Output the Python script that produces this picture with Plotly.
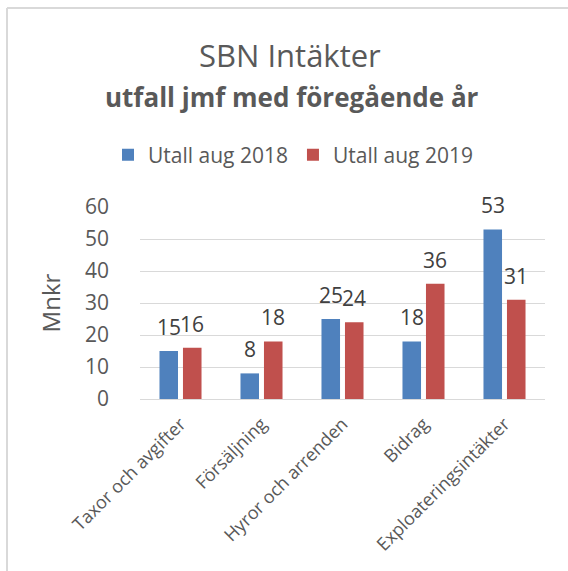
import plotly.graph_objects as go

# Intäkter per kategori, Mnkr
categories = ["Taxor och avgifter", "Försäljning", "Hyror och arrenden", "Bidrag", "Exploateringsintäkter"]
series_names = ["Utall aug 2018", "Utall aug 2019"]
values_2018 = [15, 8, 25, 18, 53]
values_2019 = [16, 18, 24, 36, 31]
y_ticks = [0, 10, 20, 30, 40, 50, 60]

W, H = 568, 571
M_L, M_R, M_T, M_B = 140, 23, 207, 172
plot_w = W - M_L - M_R
plot_h = H - M_T - M_B


def px_x(px):
    return (px - M_L) / plot_w


def px_y(py):
    return (H - M_B - py) / plot_h


FONT = "Open Sans"
TEXT = "#595959"
LABEL = "#404040"
BARGAP, GROUPGAP = 0.42, 0.21

fig = go.Figure()
series = [
    (series_names[0], values_2018, "#4f81bd"),
    (series_names[1], values_2019, "#c0504d"),
]
for name, vals, color in series:
    fig.add_trace(go.Bar(
        name=name, x=categories, y=vals, marker_color=color,
        marker_line_width=0,
    ))

# value labels above each bar, offset sideways to the bar's slot in the group
cat_px = plot_w / len(categories)
slot_px = cat_px * (1 - BARGAP) / len(series)
annotations = []
for i, (name, vals, color) in enumerate(series):
    shift = (i - (len(series) - 1) / 2) * slot_px
    for cat, v in zip(categories, vals):
        annotations.append(dict(
            x=cat, y=v, xref="x", yref="y", text=str(v), showarrow=False,
            xanchor="center", yanchor="middle", xshift=shift, yshift=24,
            font=dict(family=FONT, size=21, color=LABEL),
        ))

annotations += [
    dict(text="SBN Intäkter", xref="paper", yref="paper",
         x=px_x(290), y=px_y(55), xanchor="center", yanchor="middle",
         showarrow=False, font=dict(family=FONT, size=31, color=TEXT)),
    dict(text="<b>utfall jmf med föregående år</b>", xref="paper", yref="paper",
         x=px_x(292), y=px_y(97), xanchor="center", yanchor="middle",
         showarrow=False, font=dict(family=FONT, size=26, color=TEXT)),
]

fig.update_layout(
    width=W, height=H,
    margin=dict(l=M_L, r=M_R, t=M_T, b=M_B),
    paper_bgcolor="white", plot_bgcolor="white",
    barmode="group", bargap=BARGAP, bargroupgap=GROUPGAP,
    font=dict(family=FONT, color=TEXT),
    showlegend=True,
    legend=dict(
        orientation="h", x=px_x(293), y=px_y(155),
        xanchor="center", yanchor="middle",
        font=dict(family=FONT, size=21, color=TEXT),
        itemwidth=30, traceorder="normal", bgcolor="rgba(0,0,0,0)",
    ),
    xaxis=dict(
        tickangle=-45, tickfont=dict(family=FONT, size=18, color=TEXT),
        showline=False, ticks="", showgrid=False, ticklabelstandoff=10,
    ),
    yaxis=dict(
        range=[0, 60], tickvals=y_ticks, showgrid=True, gridcolor="#d9d9d9",
        gridwidth=1, zeroline=True, zerolinecolor="#d9d9d9", zerolinewidth=1,
        tickfont=dict(family=FONT, size=21, color=TEXT), ticks="",
        ticklabelstandoff=30,
        title=dict(text="Mnkr", font=dict(family=FONT, size=24, color=TEXT), standoff=17),
    ),
    annotations=annotations,
    shapes=[
        dict(type="line", xref="paper", yref="paper",
             x0=px_x(7), x1=px_x(7), y0=px_y(8), y1=px_y(H + 10),
             line=dict(color="#d9d9d9", width=2)),
        dict(type="line", xref="paper", yref="paper",
             x0=px_x(7), x1=px_x(W + 10), y0=px_y(8), y1=px_y(8),
             line=dict(color="#d9d9d9", width=2)),
    ],
)

fig.write_html("out.html")
